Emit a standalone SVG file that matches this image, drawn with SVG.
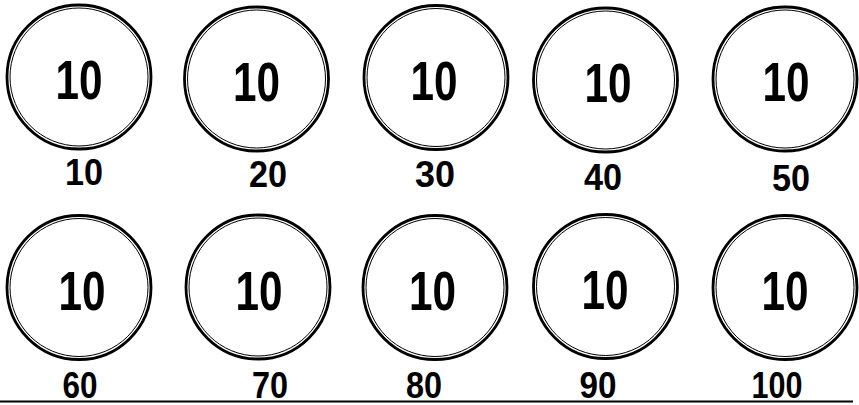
<svg xmlns="http://www.w3.org/2000/svg" width="859" height="405" viewBox="0 0 859 405">
<style>
.o{fill:none;stroke:#000;stroke-width:2.8}
.i{fill:none;stroke:#000;stroke-width:1}
.t{font-family:"Liberation Sans",Arial,sans-serif;font-weight:bold;font-size:56px;fill:#000;text-anchor:middle}
.l{font-family:"Liberation Sans",Arial,sans-serif;font-weight:bold;font-size:36px;fill:#000;text-anchor:middle}
</style>
<rect width="859" height="405" fill="#fff"/>
<g id="n1"><circle class="o" cx="79" cy="77" r="72"/><circle class="i" cx="79" cy="77" r="69"/><text class="t" x="79" y="99" textLength="47" lengthAdjust="spacingAndGlyphs">10</text></g>
<g id="n2"><circle class="o" cx="256.5" cy="79" r="72"/><circle class="i" cx="256.5" cy="79" r="69"/><text class="t" x="256.5" y="101" textLength="47" lengthAdjust="spacingAndGlyphs">10</text></g>
<g id="n3"><circle class="o" cx="436" cy="77.5" r="72"/><circle class="i" cx="436" cy="77.5" r="69"/><text class="t" x="434" y="99.5" textLength="47" lengthAdjust="spacingAndGlyphs">10</text></g>
<g id="n4"><circle class="o" cx="605.5" cy="80" r="72"/><circle class="i" cx="605.5" cy="80" r="69"/><text class="t" x="608" y="102" textLength="47" lengthAdjust="spacingAndGlyphs">10</text></g>
<g id="n5"><circle class="o" cx="785" cy="79" r="72"/><circle class="i" cx="785" cy="79" r="69"/><text class="t" x="786" y="101" textLength="47" lengthAdjust="spacingAndGlyphs">10</text></g>
<g id="n6"><circle class="o" cx="79" cy="287.5" r="72"/><circle class="i" cx="79" cy="287.5" r="69"/><text class="t" x="82" y="310" textLength="47" lengthAdjust="spacingAndGlyphs">10</text></g>
<g id="n7"><circle class="o" cx="258" cy="287" r="72"/><circle class="i" cx="258" cy="287" r="69"/><text class="t" x="259" y="309.5" textLength="47" lengthAdjust="spacingAndGlyphs">10</text></g>
<g id="n8"><circle class="o" cx="435" cy="287.5" r="72"/><circle class="i" cx="435" cy="287.5" r="69"/><text class="t" x="432.5" y="310" textLength="47" lengthAdjust="spacingAndGlyphs">10</text></g>
<g id="n9"><circle class="o" cx="605.5" cy="286.5" r="72"/><circle class="i" cx="605.5" cy="286.5" r="69"/><text class="t" x="605" y="309" textLength="47" lengthAdjust="spacingAndGlyphs">10</text></g>
<g id="n10"><circle class="o" cx="785" cy="287.5" r="72"/><circle class="i" cx="785" cy="287.5" r="69"/><text class="t" x="785" y="310" textLength="47" lengthAdjust="spacingAndGlyphs">10</text></g>
<g id="labels">
<text class="l" x="84" y="185" textLength="38" lengthAdjust="spacingAndGlyphs">10</text>
<text class="l" x="268" y="187" textLength="38" lengthAdjust="spacingAndGlyphs">20</text>
<text class="l" x="435" y="187" textLength="40" lengthAdjust="spacingAndGlyphs">30</text>
<text class="l" x="603" y="190" textLength="38" lengthAdjust="spacingAndGlyphs">40</text>
<text class="l" x="791" y="191" textLength="38" lengthAdjust="spacingAndGlyphs">50</text>
<text class="l" x="80" y="398" textLength="35" lengthAdjust="spacingAndGlyphs">60</text>
<text class="l" x="270" y="398" textLength="36" lengthAdjust="spacingAndGlyphs">70</text>
<text class="l" x="424" y="398" textLength="36" lengthAdjust="spacingAndGlyphs">80</text>
<text class="l" x="598" y="398" textLength="37" lengthAdjust="spacingAndGlyphs">90</text>
<text class="l" x="777" y="398" textLength="51" lengthAdjust="spacingAndGlyphs">100</text>
</g>
<g id="connectors"><line x1="0" y1="401.5" x2="853" y2="401.5" stroke="#000" stroke-width="2"/></g>
</svg>
